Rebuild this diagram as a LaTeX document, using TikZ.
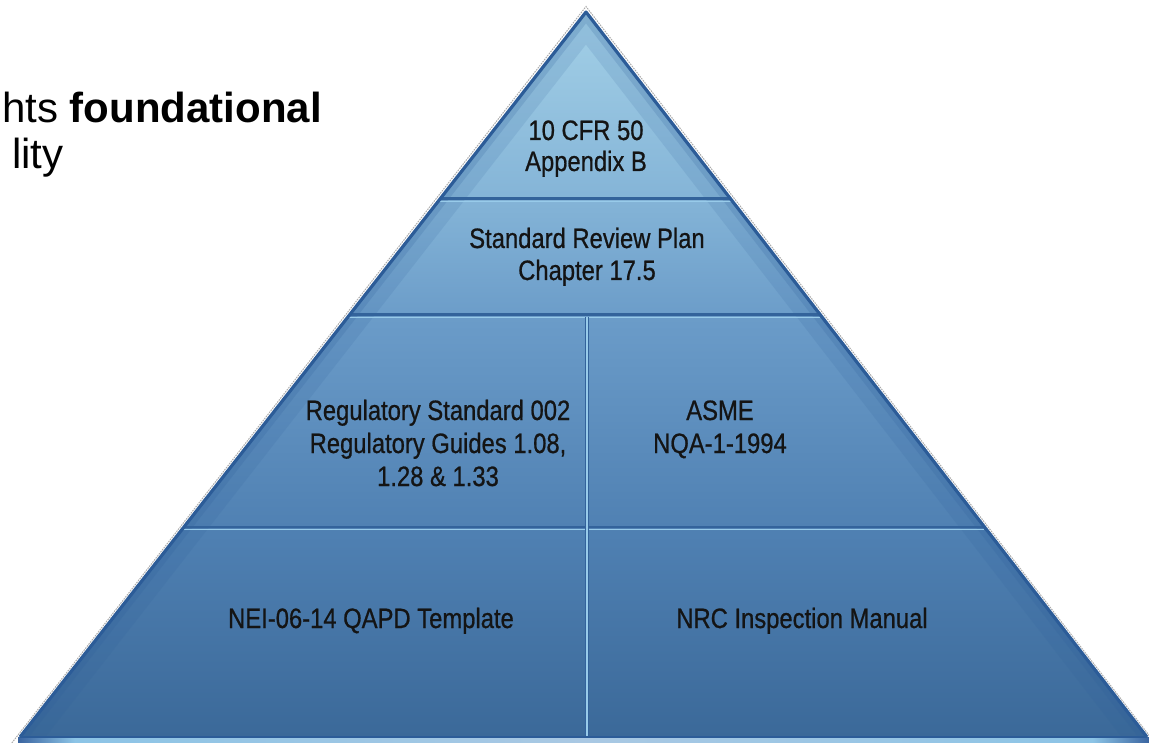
\documentclass[tikz,border=0pt]{standalone}
\usepackage{fontspec}
\setmainfont{Liberation Sans}
\newfontfamily\tierfont[FakeStretch=0.85,FakeBold=0.7]{Liberation Sans}
\usetikzlibrary{calc}

\definecolor{tierA}{HTML}{A3D0E7}
\definecolor{tierAb}{HTML}{84B4D7}
\definecolor{tierB}{HTML}{6A9BC8}
\definecolor{tierC}{HTML}{4F80B2}
\definecolor{tierD}{HTML}{3B6999}
\definecolor{rimblue}{HTML}{2C5C98}
\definecolor{seamdark}{HTML}{33639B}
\definecolor{seamlight}{HTML}{98CBEA}
\definecolor{stripend}{HTML}{3A64A0}
\definecolor{stripglow}{HTML}{8CC4E6}
\definecolor{stripmid}{HTML}{A9C8E3}
\definecolor{inktext}{HTML}{141414}

% vertical colour ramp of the pyramid (25bp = base, 75bp = apex)
\pgfdeclareverticalshading{pyrshade}{100bp}{%
  color(0bp)=(tierD); color(25bp)=(tierD); color(39bp)=(tierC);
  color(53.5bp)=(tierB); color(62bp)=(tierAb); color(75bp)=(tierA);
  color(100bp)=(tierA)}
% light reflection band under the base
\pgfdeclarehorizontalshading{stripshade}{100bp}{%
  color(0bp)=(stripend); color(25bp)=(stripend); color(27.5bp)=(stripglow);
  color(50bp)=(stripmid); color(72.5bp)=(stripglow); color(75bp)=(stripend);
  color(100bp)=(stripend)}

\tikzset{
  tierlabel/.style={inner sep=0pt, anchor=base, text=inktext,
    font=\tierfont\fontsize{28}{33}\selectfont},
  bodytext/.style={inner sep=0pt, anchor=base west, text=black,
    font=\fontsize{42}{50}\selectfont},
  seamdk/.style={draw=seamdark, line width=3pt},
  seamlt/.style={draw=seamlight, line width=1.1pt},
  halo/.style={draw=gray!65, line width=1pt, dash pattern=on 1.6pt off 1pt},
}

\begin{document}
\begin{tikzpicture}[x=1pt,y=-1pt]
\useasboundingbox (0,0) rectangle (1149,743);
\clip (0,0) rectangle (1149,743);

% pyramid corners
\coordinate (A)  at (586,12);
\coordinate (BL) at (20,737);
\coordinate (BR) at (1147,737);
% outer halo line
\coordinate (hA)  at (586,6.5);
\coordinate (hBL) at (11.8,743);
\coordinate (hBR) at (1155,743);

% tier seams
\coordinate (L1) at ($(A)!0.2579!(BL)$);
\coordinate (R1) at ($(A)!0.2579!(BR)$);
\coordinate (L2) at ($(A)!0.4179!(BL)$);
\coordinate (R2) at ($(A)!0.4179!(BR)$);
\coordinate (L3) at ($(A)!0.7103!(BL)$);
\coordinate (R3) at ($(A)!0.7103!(BR)$);
\coordinate (Vt) at (587,317);
\coordinate (Vb) at (587,737);

% reflection band
\shade[shading=stripshade] (18,737) rectangle (1149,743);

% body of the pyramid
\shade[shading=pyrshade] (A) -- (BL) -- (BR) -- cycle;
\begin{scope}
  \clip (A) -- (BL) -- (BR) -- cycle;
  \draw[rimblue, opacity=0.13, line width=40pt] (BL) -- (A) -- (BR);
  \draw[rimblue, opacity=0.18, line width=14pt] (BL) -- (A) -- (BR);
  % seams between tiers
  \draw[seamdk] (L1) -- (R1);
  \draw[seamlt] ($(L1)+(0,2.4)$) -- ($(R1)+(0,2.4)$);
  \draw[seamdk] (L2) -- (R2);
  \draw[seamlt] ($(L2)+(0,2.6)$) -- ($(R2)+(0,2.6)$);
  \draw[seamdk, line width=2.4pt] (L3) -- (R3);
  \draw[seamlt] ($(L3)+(0,2.2)$) -- ($(R3)+(0,2.2)$);
  \draw[seamdk, line width=3.4pt] (Vt) -- (Vb);
  \draw[seamlt, line width=1.2pt] (Vt) -- (Vb);
\end{scope}

% rim and base line
\draw[halo] (hBL) -- (hA) -- (hBR);
\draw[rimblue, line width=3.2pt, line join=round] (BL) -- (A) -- (BR);
\draw[rimblue, line width=2pt] (BL) -- (BR);

% tier labels
\node[tierlabel] (t1a) at (586,140) {10 CFR 50};
\node[tierlabel] (t1b) at (586,171) {Appendix B};
\node[tierlabel] (t2a) at (587,248) {Standard Review Plan};
\node[tierlabel] (t2b) at (587,280) {Chapter 17.5};
\node[tierlabel] (t3a) at (438,420) {Regulatory Standard 002};
\node[tierlabel] (t3b) at (438,453) {Regulatory Guides 1.08,};
\node[tierlabel] (t3c) at (438,486) {1.28 \& 1.33};
\node[tierlabel] (t4a) at (720,420) {ASME};
\node[tierlabel] (t4b) at (720,453) {NQA-1-1994};
\node[tierlabel] (t5)  at (371,628) {NEI-06-14 QAPD Template};
\node[tierlabel] (t6)  at (802,628) {NRC Inspection Manual};

% slide text at the left edge
\node[bodytext] (h1) at (2,123) {hts \textbf{foundational}};
\node[bodytext] (h2) at (12,169) {lity};
\end{tikzpicture}
\end{document}
